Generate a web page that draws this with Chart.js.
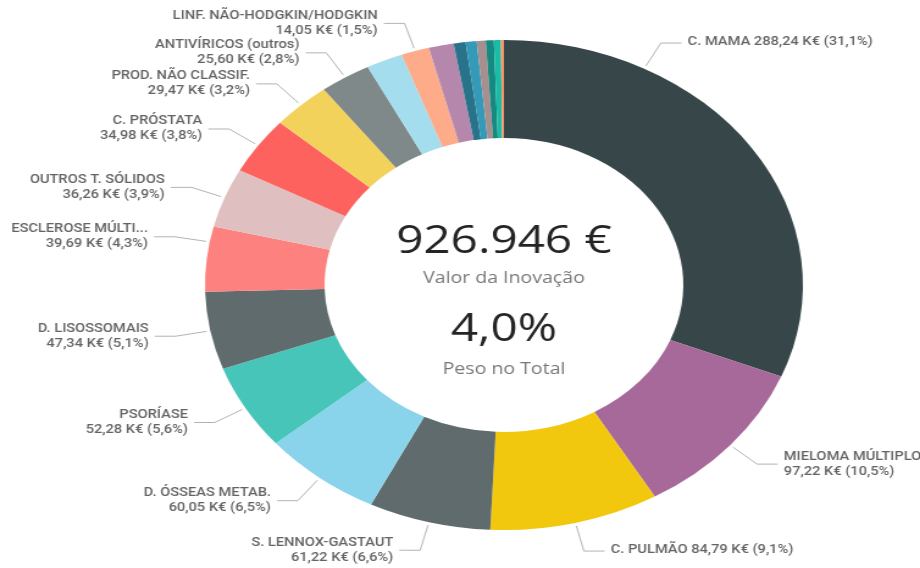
<!DOCTYPE html>
<html>
<head>
<meta charset="utf-8">
<script src="https://cdn.jsdelivr.net/npm/chart.js@4/dist/chart.umd.min.js"></script>
<style>
  html, body { margin: 0; padding: 0; background: #fff; overflow: hidden; }
  #wrap { width: 920px; height: 568px; }
  /* the reference is a horizontally stretched screenshot */
  #chart { transform: scaleX(1.2202); transform-origin: 0 0; }
</style>
</head>
<body>
<div id="wrap"><canvas id="chart" width="754" height="568"></canvas></div>
<script>
// data (K€)
const categories = [
  'C. MAMA', 'MIELOMA MÚLTIPLO', 'C. PULMÃO', 'S. LENNOX-GASTAUT', 'D. ÓSSEAS METAB.',
  'PSORÍASE', 'D. LISOSSOMAIS', 'ESCLEROSE MÚLTI...', 'OUTROS T. SÓLIDOS', 'C. PRÓSTATA',
  'PROD. NÃO CLASSIF.', 'ANTIVÍRICOS (outros)', '', 'LINF. NÃO-HODGKIN/HODGKIN',
  '', '', '', '', '', '', ''
];
const values = [
  288.24, 97.22, 84.79, 61.22, 60.05,
  52.28, 47.34, 39.69, 36.26, 34.98,
  29.47, 25.60, 18.26, 14.05,
  12.5, 6.0, 5.5, 4.5, 4.0, 3.5, 1.5
];
const colors = [
  '#374649', '#A66999', '#F2C80F', '#5F6B6D', '#8AD4EB',
  '#47C5B8', '#5F6B6D', '#FD817E', '#DFBFBF', '#FD625E',
  '#F3D25C', '#7F898A', '#A4DDEE', '#FDAB89',
  '#B687AC', '#28738A', '#3599B8', '#A78F8F', '#168980', '#1ABCA8', '#FE9666'
];
const totalValue = 926946;
const pesoNoTotal = 4.0;

const fmt = (n, d) => n.toFixed(d).replace('.', ',');
const thousands = n => String(n).replace(/\B(?=(\d{3})+(?!\d))/g, '.');

// labels outside the ring with leader lines
const outLabels = {
    id: 'outLabels',
    afterDatasetsDraw(chart, args, opts) {
        const ctx = chart.ctx;
        const meta = chart.getDatasetMeta(0);
        const total = values.reduce((a, b) => a + b, 0);
        ctx.save();
        ctx.font = '500 12px Roboto';
        ctx.textBaseline = 'middle';
        meta.data.forEach((arc, i) => {
            if (!categories[i]) return;
            const p = arc.getProps(['x', 'y', 'startAngle', 'endAngle', 'outerRadius'], true);
            const f = opts.anchor[i] != null ? opts.anchor[i] : 0.5;
            const a = p.startAngle + (p.endAngle - p.startAngle) * f;
            const cos = Math.cos(a), sin = Math.sin(a);
            const r0 = p.outerRadius + 3, r1 = p.outerRadius + 29;
            const x0 = p.x + cos * r0, y0 = p.y + sin * r0;
            const x1 = p.x + cos * r1, y1 = p.y + sin * r1;
            const right = cos >= 0;
            const x2 = x1 + (right ? 17 : -17);
            ctx.strokeStyle = '#b3b3b3';
            ctx.lineWidth = 1;
            ctx.beginPath();
            ctx.moveTo(x0, y0);
            ctx.lineTo(x1, y1);
            ctx.lineTo(x2, y1);
            ctx.stroke();

            const valText = fmt(values[i], 2) + ' K€ (' + fmt(values[i] / total * 100, 1) + '%)';
            const tx = x2 + (right ? 5 : -5);
            ctx.fillStyle = '#636363';
            ctx.textAlign = right ? 'left' : 'right';
            if (opts.singleLine.includes(i)) {
                ctx.fillText(categories[i] + ' ' + valText, tx, y1 - 1);
            } else {
                ctx.fillText(categories[i], tx, y1 - 7.5);
                ctx.fillText(valText, tx, y1 + 7.5);
            }
        });
        ctx.restore();
    }
};

// text in the hole
const centerText = {
    id: 'centerText',
    afterDraw(chart) {
        const ctx = chart.ctx;
        const arc = chart.getDatasetMeta(0).data[0];
        const cx = arc.x, cy = arc.y;
        ctx.save();
        ctx.textAlign = 'center';
        ctx.textBaseline = 'middle';
        ctx.fillStyle = '#252423';
        ctx.font = '39px "Open Sans"';
        ctx.fillText(thousands(totalValue) + ' €', cx, cy - 43);
        ctx.fillText(fmt(pesoNoTotal, 1) + '%', cx, cy + 45);
        ctx.fillStyle = '#777777';
        ctx.font = '16px "Open Sans"';
        ctx.fillText('Valor da Inovação', cx, cy - 7);
        ctx.fillText('Peso no Total', cx, cy + 84);
        ctx.restore();
    }
};

new Chart(document.getElementById('chart'), {
    type: 'doughnut',
    data: {
        labels: categories,
        datasets: [{
            data: values,
            backgroundColor: colors,
            borderWidth: 0
        }]
    },
    options: {
        responsive: false,
        devicePixelRatio: 1,
        animation: false,
        cutout: '60%',
        layout: { padding: { left: 168, right: 96, top: 40, bottom: 38 } },
        plugins: {
            legend: { display: false },
            tooltip: { enabled: false },
            outLabels: { anchor: { 0: 0.25, 7: 0.76 }, singleLine: [0, 2] }
        }
    },
    plugins: [outLabels, centerText]
});
</script>
</body>
</html>
